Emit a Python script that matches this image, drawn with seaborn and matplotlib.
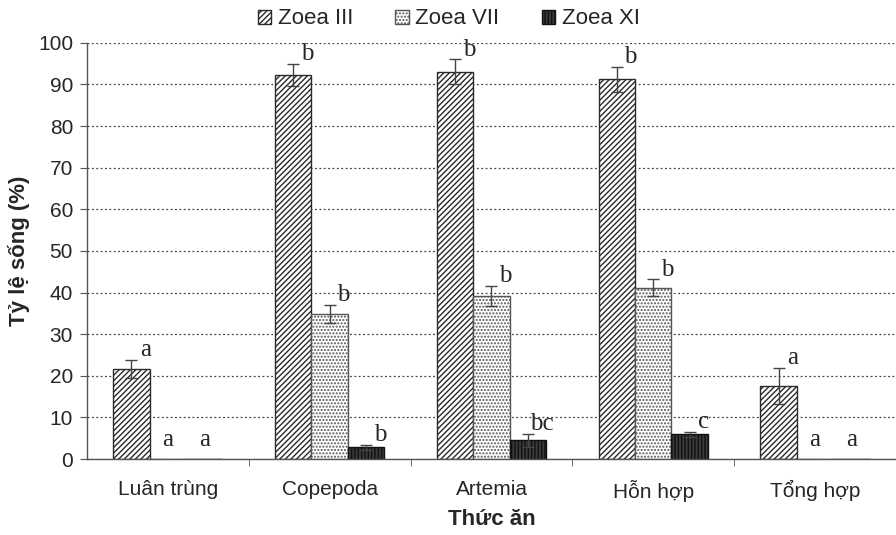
import numpy as np
import pandas as pd
import matplotlib
matplotlib.use("Agg")
import matplotlib.pyplot as plt
import seaborn as sns
from matplotlib.patches import Patch

categories = ["Luân trùng", "Copepoda", "Artemia", "Hỗn hợp", "Tổng hợp"]
stages = ["Zoea III", "Zoea VII", "Zoea XI"]
zoea3 = [21.6, 92.3, 93.0, 91.2, 17.6]
zoea7 = [0.0, 34.8, 39.2, 41.2, 0.0]
zoea11 = [0.0, 2.8, 4.5, 5.9, 0.0]
err3 = [2.2, 2.6, 3.0, 3.0, 4.3]
err7 = [0.0, 2.2, 2.4, 2.0, 0.0]
err11 = [0.0, 0.6, 1.6, 0.6, 0.0]
let3 = ["a", "b", "b", "b", "a"]
let7 = ["a", "b", "b", "b", "a"]
let11 = ["a", "b", "bc", "c", "a"]

rows = []
for s, vals in zip(stages, [zoea3, zoea7, zoea11]):
    for c, v in zip(categories, vals):
        rows.append({"cat": c, "stage": s, "val": v})
df = pd.DataFrame(rows)

sns.set_style("white")
plt.rcParams["font.family"] = ["Liberation Sans", "DejaVu Sans"]
plt.rcParams["hatch.linewidth"] = 1.0

fig = plt.figure(figsize=(8.96, 5.35), dpi=100)
ax = fig.add_axes([0.097, 0.142, 0.903, 0.778])

sns.barplot(data=df, x="cat", y="val", hue="stage", order=categories,
            hue_order=stages, width=0.675, ax=ax, errorbar=None,
            legend=False, saturation=1)

styles = [
    dict(face="white", hatch="//////", edge="#2a2a2a"),
    dict(face="white", hatch=".....", edge="#555555"),
    dict(face="#3a3a3a", hatch="|||||", edge="#111111"),
]
errs = [err3, err7, err11]
lets = [let3, let7, let11]
bar_containers = list(ax.containers)[:3]
for k, cont in enumerate(bar_containers):
    st = styles[k]
    for i, p in enumerate(cont.patches):
        p.set_facecolor(st["face"])
        p.set_edgecolor(st["edge"])
        p.set_hatch(st["hatch"])
        p.set_linewidth(1.0)
        cx = p.get_x() + p.get_width() / 2
        h = p.get_height()
        e = errs[k][i]
        if h > 0:
            ax.errorbar(cx, h, yerr=e, fmt="none", ecolor="#444444",
                        elinewidth=1, capsize=4, capthick=1, zorder=5)
            ax.annotate(lets[k][i], (cx, h + e), xytext=(10, -1),
                        textcoords="offset points", ha="center", va="bottom",
                        fontsize=18, family="Liberation Serif")
        else:
            ax.text(cx, 4.5, lets[k][i], ha="center", va="center",
                    fontsize=18, family="Liberation Serif")

ax.set_ylim(0, 100)
ax.set_xlim(-0.5, 4.5)
ax.set_yticks(np.arange(0, 101, 10))
ax.set_yticklabels([str(v) for v in range(0, 101, 10)], fontsize=15)
ax.set_xticks(range(len(categories)))
ax.set_xticklabels(categories, fontsize=15)
ax.tick_params(axis="x", length=0, pad=15)
ax.set_xticks([0.5, 1.5, 2.5, 3.5], minor=True)
ax.tick_params(axis="x", which="minor", length=5, color="#555555", direction="out", bottom=True)
ax.tick_params(axis="y", length=5, color="#555555", direction="out", left=True, pad=5)
ax.yaxis.grid(True, linestyle=(0, (1.5, 2)), color="#444444", linewidth=0.9)
ax.set_axisbelow(True)
for sp in ["top", "right"]:
    ax.spines[sp].set_visible(False)
for sp in ["left", "bottom"]:
    ax.spines[sp].set_color("#555555")
    ax.spines[sp].set_linewidth(1)
ax.set_ylabel("Tỷ lệ sống (%)", fontsize=16, fontweight="bold", labelpad=6)
ax.set_xlabel("Thức ăn", fontsize=16, fontweight="bold", labelpad=5)

handles = [Patch(facecolor=s["face"], edgecolor=s["edge"], hatch=s["hatch"],
                 label=lab) for s, lab in zip(styles, stages)]
ax.legend(handles=handles, loc="lower center", bbox_to_anchor=(0.447, 1.0),
          ncol=3, frameon=False, fontsize=16, handlelength=0.6,
          handleheight=0.6, handletextpad=0.3, columnspacing=1.9,
          borderaxespad=0.2)

fig.savefig("out.png", dpi=100)
